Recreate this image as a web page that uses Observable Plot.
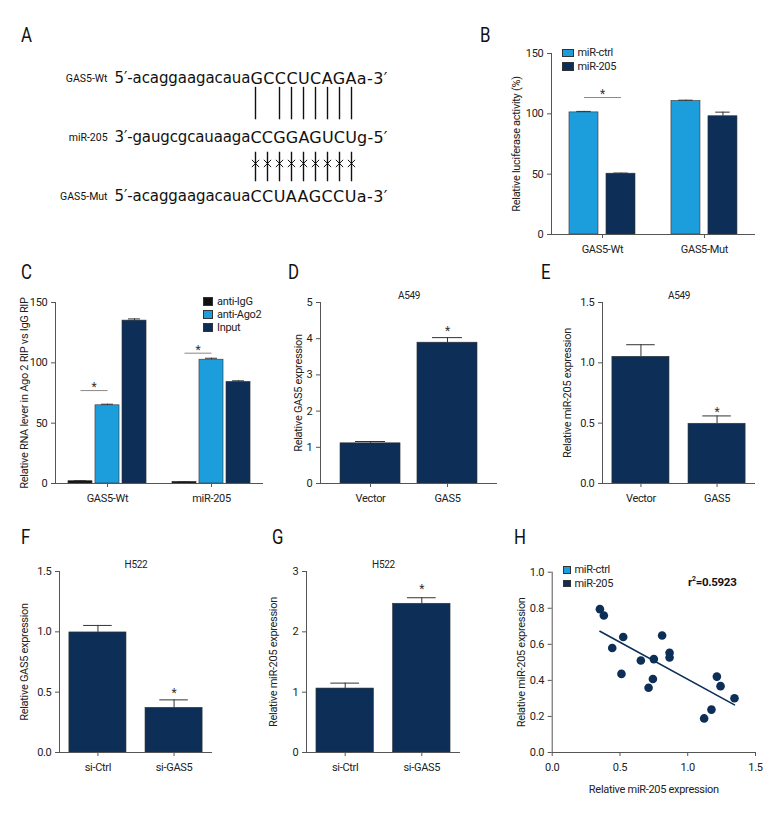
<!DOCTYPE html>
<html>
<head>
<meta charset="utf-8">
<script src="https://cdn.jsdelivr.net/npm/d3@7"></script>
<script src="https://cdn.jsdelivr.net/npm/@observablehq/plot@0.6"></script>
<style>
  body { margin: 0; background: #fff; }
  #fig { position: relative; width: 780px; height: 840px; background: #fff; overflow: hidden;
         font-family: Roboto, 'Liberation Sans', sans-serif; color: #222; }
  .panel { position: absolute; }
  .letter { position: absolute; font-size: 21px; line-height: 1; color: #111; transform: scaleX(0.8); transform-origin: left top; }
  .legend { position: absolute; font-size: 11px; line-height: 1; color: #222; letter-spacing: -0.3px; }
  .legend .row { display: flex; align-items: center; }
  .legend .sw { box-sizing: border-box; border: 0.6px solid #333; margin-right: 4px; }
  .r2 { position: absolute; font-size: 11.5px; font-weight: bold; color: #111; line-height: 1; letter-spacing: -0.3px; }
</style>
</head>
<body>
<div id="fig"></div>
<script>
// ---------------- DATA ----------------
// Panel A: sequences
const seqRows   = ["GAS5-Wt", "miR-205", "GAS5-Mut"];
const seqPrefix = ["5′-acaggaagacaua", "3′-gaugcgcauaaga", "5′-acaggaagacaua"];
const seqCore   = ["GCCCUCAGAa-3′", "CCGGAGUCUg-5′", "CCUAAGCCUa-3′"];
const pairTop   = [0, 2, 3, 4, 5, 6, 7, 8];          // seed positions paired (Wt)
const pairMut   = [0, 1, 2, 3, 4, 5, 6, 7, 8];       // seed positions mutated

// Panel B: luciferase
const bGroups = ["GAS5-Wt", "GAS5-Mut"];
const bSeries = ["miR-ctrl", "miR-205"];
const bValues = [101.2, 50.4, 110.6, 98.0];
const bErrors = [0.8, 0.5, 0.7, 3.4];
const bTicks  = [0, 50, 100, 150];
const bSig    = [{group: "GAS5-Wt", from: "miR-ctrl", to: "miR-205", y: 113.5, star: 116}];

// Panel C: RIP
const cGroups = ["GAS5-Wt", "miR-205"];
const cSeries = ["anti-IgG", "anti-Ago2", "Input"];
const cValues = [1.9, 64.8, 135.0, 1.3, 102.6, 84.2];
const cErrors = [0.4, 0.9, 1.4, 0.3, 1.2, 0.9];
const cTicks  = [0, 50, 100, 150];
const cSig    = [{group: "GAS5-Wt", from: "anti-IgG", to: "anti-Ago2", y: 77, star: 79.5},
                 {group: "miR-205", from: "anti-IgG", to: "anti-Ago2", y: 108, star: 110.5}];

// Panel D
const dCats = ["Vector", "GAS5"];
const dValues = [1.11, 3.89];
const dErrors = [0.05, 0.14];
const dTicks = [0, 1, 2, 3, 4, 5];
const dStar = 4.22;

// Panel E
const eCats = ["Vector", "GAS5"];
const eValues = [1.05, 0.495];
const eErrors = [0.10, 0.065];
const eTicks = [0, 0.5, 1.0, 1.5];
const eStar = 0.59;

// Panel F
const fCats = ["si-Ctrl", "si-GAS5"];
const fValues = [0.995, 0.37];
const fErrors = [0.058, 0.066];
const fTicks = [0, 0.5, 1.0, 1.5];
const fStar = 0.49;

// Panel G
const gCats = ["si-Ctrl", "si-GAS5"];
const gValues = [1.06, 2.465];
const gErrors = [0.09, 0.10];
const gTicks = [0, 1, 2, 3];
const gStar = 2.71;

// Panel H: scatter
const hX = [0.352, 0.381, 0.443, 0.524, 0.511, 0.654, 0.750, 0.811, 0.866, 0.866, 0.743, 0.711, 1.215, 1.242, 1.345, 1.175, 1.121];
const hY = [0.795, 0.760, 0.580, 0.641, 0.436, 0.510, 0.518, 0.649, 0.553, 0.527, 0.408, 0.359, 0.421, 0.368, 0.301, 0.238, 0.189];
const hXTicks = [0, 0.5, 1.0, 1.5];
const hYTicks = [0, 0.2, 0.4, 0.6, 0.8, 1.0];

// ---------------- STYLE ----------------
const FONT = "Roboto, 'Liberation Sans', sans-serif";
const SEQFONT = "'DejaVu Sans', Verdana, sans-serif";
const LIGHT = "#1c9edc", NAVY = "#0c2e57", IGG = "#111111";
const AXIS = "#555";
const fig = document.getElementById("fig");

function place(node, left, top) {
  const d = document.createElement("div");
  d.className = "panel";
  d.style.left = left + "px"; d.style.top = top + "px";
  d.appendChild(node);
  fig.appendChild(d);
}
function baseStyle(ls = "-0.3px") {
  return {fontFamily: FONT, fontSize: "11px", color: "#222", background: "transparent", overflow: "visible", letterSpacing: ls};
}
function letter(txt, left, top) {
  const d = document.createElement("div");
  d.className = "letter"; d.textContent = txt;
  d.style.left = left + "px"; d.style.top = top + "px";
  fig.appendChild(d);
}
function legend(items, left, top, sw, sh, gap) {
  const d = document.createElement("div");
  d.className = "legend"; d.style.left = left + "px"; d.style.top = top + "px";
  items.forEach(([label, color]) => {
    const r = document.createElement("div"); r.className = "row"; r.style.height = gap + "px";
    const s = document.createElement("div"); s.className = "sw";
    s.style.width = sw + "px"; s.style.height = sh + "px"; s.style.background = color;
    const t = document.createElement("span"); t.textContent = label;
    r.appendChild(s); r.appendChild(t); d.appendChild(r);
  });
  fig.appendChild(d);
}
// fit each text of a text mark to a given length (keeps glyphs, adjusts spacing)
function fitLength(len) {
  return (index, scales, values, dims, ctx, next) => {
    const g = next(index, scales, values, dims, ctx);
    g.querySelectorAll("text").forEach(t => {
      t.setAttribute("textLength", len);
      t.setAttribute("lengthAdjust", "spacing");
    });
    return g;
  };
}

// ---------------- PANEL A ----------------
{
  const aData = seqRows.map((r, i) => ({row: i, label: r, prefix: seqPrefix[i], core: seqCore[i]}));
  const W = 470, H = 180, origin = 255, step = 12;
  const svg = Plot.plot({
    width: W, height: H, marginLeft: 0, marginRight: 0, marginTop: 38, marginBottom: 24,
    style: baseStyle("0px"),
    x: {domain: [-origin / step, (W - origin) / step], axis: null},
    y: {domain: [0, 2], reverse: true, axis: null},
    marks: [
      Plot.text(aData, {x: -12.33, y: "row", text: "label", textAnchor: "end", fontSize: 10.5, fill: "#111"}),
      Plot.text(aData, {x: -0.42, y: "row", text: "prefix", textAnchor: "end", fontFamily: SEQFONT, fontSize: 15, fill: "#111",
        render: fitLength(136)}),
      Plot.text(aData, {x: -0.42, y: "row", text: "core", textAnchor: "start", fontFamily: SEQFONT, fontSize: 16, fill: "#111",
        render: fitLength(137)}),
      Plot.ruleX(pairTop, {x: d => d, y1: 0.15, y2: 0.7, stroke: "#111", strokeWidth: 1.4}),
      Plot.ruleX(pairMut, {x: d => d, y1: 1.25, y2: 1.75, stroke: "#111", strokeWidth: 1.4}),
      Plot.dot(pairMut, {x: d => d, y: 1.44, symbol: "times", r: 3.4, stroke: "#111", strokeWidth: 1})
    ]
  });
  place(svg, 0, 40);
}

// ---------------- grouped bars (B, C) ----------------
function groupedBars(cfg) {
  const {left, top, width, height, ml, mr, mt, mb, groups, series, colors, values, errors,
         yDomain, yTicks, yLabel, lblOff, fpi, fpo, falign, pi, po, sig} = cfg;
  const n = series.length;
  const data = groups.flatMap((g, i) => series.map((s, j) => ({
    group: g, series: s, value: values[i * n + j], top: values[i * n + j] + errors[i * n + j]})));
  const inner = width - ml - mr;
  const fstep = inner / (groups.length - fpi + 2 * fpo);
  const fbw = fstep * (1 - fpi);
  const step = fbw / (n - pi + 2 * po);
  const bw = step * (1 - pi);
  const svg = Plot.plot({
    width, height, marginLeft: ml, marginRight: mr, marginTop: mt, marginBottom: mb,
    style: baseStyle(),
    fx: {domain: groups, paddingInner: fpi, paddingOuter: fpo, align: falign, round: false, label: null},
    x: {domain: series, paddingInner: pi, paddingOuter: po, round: false, axis: null},
    y: {domain: yDomain},
    color: {domain: series, range: colors},
    marks: [
      Plot.barY(data, {fx: "group", x: "series", y: "value", fill: "series", stroke: "#333", strokeWidth: 0.6}),
      Plot.ruleX(data, {fx: "group", x: "series", y1: "value", y2: "top", stroke: "#333", strokeWidth: 1}),
      Plot.tickY(data, {fx: "group", x: "series", y: "top", insetLeft: bw / 4, insetRight: bw / 4, stroke: "#333", strokeWidth: 1}),
      Plot.link(sig, {fx: "group", x1: "from", x2: "to", y1: "y", y2: "y", stroke: "#888", strokeWidth: 1}),
      Plot.text(sig, {fx: "group", x: "from", y: "star", dx: step / 2, text: () => "*", fontSize: 12, fill: "#333"}),
      Plot.ruleY([0], {stroke: AXIS, strokeWidth: 1}),
      Plot.frame({anchor: "left", facet: "super", stroke: AXIS, strokeWidth: 1}),
      Plot.axisY({ticks: yTicks, tickSize: 4, tickPadding: 4, stroke: AXIS, label: yLabel, labelAnchor: "center", labelArrow: "none", labelOffset: lblOff}),
      Plot.axisFx({anchor: "bottom", tickSize: 4, tickPadding: 7, stroke: AXIS, label: null})
    ]
  });
  place(svg, left, top);
}

// ---------------- simple bars (D-G) ----------------
function simpleBars(cfg) {
  const {left, top, width, height, ml, mr, mt, mb, cats, values, errors, yDomain, yTicks, yFmt,
         yLabel, lblOff, title, starY, pi, po} = cfg;
  const data = cats.map((c, i) => ({cat: c, value: values[i], top: values[i] + errors[i]}));
  const inner = width - ml - mr;
  const step = inner / (cats.length - pi + 2 * po);
  const bw = step * (1 - pi);
  const svg = Plot.plot({
    width, height, marginLeft: ml, marginRight: mr, marginTop: mt, marginBottom: mb,
    style: baseStyle(),
    x: {domain: cats, paddingInner: pi, paddingOuter: po, round: false},
    y: {domain: yDomain},
    marks: [
      Plot.barY(data, {x: "cat", y: "value", fill: NAVY, stroke: "#333", strokeWidth: 0.6}),
      Plot.ruleX(data, {x: "cat", y1: "value", y2: "top", stroke: "#333", strokeWidth: 1}),
      Plot.tickY(data, {x: "cat", y: "top", insetLeft: bw / 4, insetRight: bw / 4, stroke: "#333", strokeWidth: 1}),
      Plot.text([{cat: cats[1], y: starY}], {x: "cat", y: "y", text: () => "*", fontSize: 12, fill: "#333"}),
      Plot.text([title], {frameAnchor: "top", dy: -4, lineAnchor: "bottom", text: d => d, fontSize: 10, fill: "#222"}),
      Plot.ruleY([yDomain[0]], {stroke: AXIS, strokeWidth: 1}),
      Plot.frame({anchor: "left", stroke: AXIS, strokeWidth: 1}),
      Plot.axisY({ticks: yTicks, tickFormat: yFmt, tickSize: 4, tickPadding: 4, stroke: AXIS, label: yLabel, labelAnchor: "center", labelArrow: "none", labelOffset: lblOff}),
      Plot.axisX({tickSize: 4, tickPadding: 7, stroke: AXIS, label: null})
    ]
  });
  place(svg, left, top);
}

try {
  groupedBars({left: 480, top: 30, width: 290, height: 235, ml: 71, mr: 12, mt: 23, mb: 31,
    groups: bGroups, series: bSeries, colors: [LIGHT, NAVY], values: bValues, errors: bErrors,
    yDomain: [0, 150], yTicks: bTicks, yLabel: "Relative luciferase activity (%)", lblOff: 39,
    fpi: 0, fpo: 0.015, falign: 0, pi: 0.216, po: 0.486, sig: bSig});

  groupedBars({left: 0, top: 290, width: 280, height: 230, ml: 55, mr: 17, mt: 12, mb: 37,
    groups: cGroups, series: cSeries, colors: [IGG, LIGHT, NAVY], values: cValues, errors: cErrors,
    yDomain: [0, 150], yTicks: cTicks, yLabel: "Relative RNA lever in Ago 2 RIP vs IgG RIP", lblOff: 35,
    fpi: 0, fpo: 0, falign: 0.5, pi: 0.11, po: 0.48, sig: cSig});

  const f1 = d3.format(".1f");
  simpleBars({left: 270, top: 285, width: 240, height: 235, ml: 50, mr: 13, mt: 17, mb: 37,
    cats: dCats, values: dValues, errors: dErrors, yDomain: [0, 5], yTicks: dTicks, yFmt: d3.format("d"),
    yLabel: "Relative GAS5 expression", lblOff: 26, title: "A549", starY: dStar, pi: 0.22, po: 0.26});

  simpleBars({left: 520, top: 285, width: 250, height: 235, ml: 82, mr: 15, mt: 17, mb: 37,
    cats: eCats, values: eValues, errors: eErrors, yDomain: [0, 1.5], yTicks: eTicks, yFmt: f1,
    yLabel: "Relative miR-205 expression", lblOff: 39, title: "A549", starY: eStar, pi: 0.25, po: 0.13});

  simpleBars({left: 0, top: 550, width: 230, height: 240, ml: 59, mr: 18, mt: 21, mb: 38,
    cats: fCats, values: fValues, errors: fErrors, yDomain: [0, 1.5], yTicks: fTicks, yFmt: f1,
    yLabel: "Relative GAS5 expression", lblOff: 39, title: "H522", starY: fStar, pi: 0.25, po: 0.13});

  simpleBars({left: 250, top: 550, width: 225, height: 240, ml: 56, mr: 15, mt: 21, mb: 38,
    cats: gCats, values: gValues, errors: gErrors, yDomain: [0, 3], yTicks: gTicks, yFmt: d3.format("d"),
    yLabel: "Relative miR-205 expression", lblOff: 37, title: "H522", starY: gStar, pi: 0.25, po: 0.13});

  // Panel H
  const hData = hX.map((x, i) => ({x, y: hY[i]}));
  const hsvg = Plot.plot({
    width: 265, height: 245, marginLeft: 41.7, marginRight: 20, marginTop: 16.7, marginBottom: 48,
    style: baseStyle(),
    x: {domain: [0, 1.5]},
    y: {domain: [0, 1]},
    marks: [
      Plot.ruleX([0], {stroke: AXIS, strokeWidth: 1}),
      Plot.ruleY([0], {stroke: AXIS, strokeWidth: 1}),
      Plot.axisX({ticks: hXTicks, tickFormat: f1, tickSize: 4, tickPadding: 7, stroke: AXIS,
        label: "Relative miR-205 expression", labelAnchor: "center", labelArrow: "none", labelOffset: 40}),
      Plot.axisY({ticks: hYTicks, tickFormat: f1, tickSize: 4, tickPadding: 4, stroke: AXIS,
        label: "Relative miR-205 expression", labelAnchor: "center", labelArrow: "none", labelOffset: 35}),
      Plot.linearRegressionY(hData, {x: "x", y: "y", stroke: NAVY, strokeWidth: 1.6, ci: 0}),
      Plot.dot(hData, {x: "x", y: "y", r: 4.3, fill: NAVY, stroke: "none"})
    ]
  });
  place(hsvg, 510, 555);
} catch (e) {
  const pre = document.createElement("pre"); pre.textContent = e.stack; fig.appendChild(pre);
}

// legends and panel letters
legend([["miR-ctrl", LIGHT], ["miR-205", NAVY]], 562, 46, 11.5, 8.5, 13.5);
legend([["anti-IgG", IGG], ["anti-Ago2", LIGHT], ["Input", NAVY]], 203, 295, 10, 9, 13);
legend([["miR-ctrl", LIGHT], ["miR-205", NAVY]], 563, 563, 7.5, 7.5, 13.5);
{
  const r = document.createElement("div"); r.className = "r2";
  r.innerHTML = "r<sup style='font-size:7px'>2</sup>=0.5923";
  r.style.left = "688px"; r.style.top = "576px"; fig.appendChild(r);
}
letter("A", 21, 25); letter("B", 480, 25);
letter("C", 21, 262); letter("D", 288, 262); letter("E", 541, 262);
letter("F", 21, 527); letter("G", 272, 527); letter("H", 514, 527);
</script>
</body>
</html>
